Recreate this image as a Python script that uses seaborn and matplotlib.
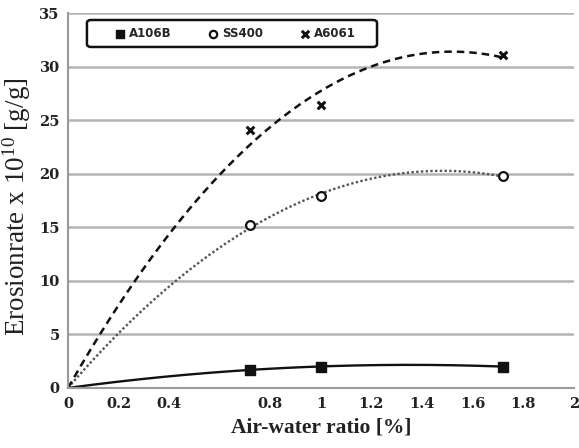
import numpy as np
import pandas as pd
import matplotlib
matplotlib.use("Agg")
import matplotlib.pyplot as plt
from matplotlib.patches import FancyBboxPatch
import seaborn as sns

# Measured erosion rates (x 10^10 g/g) at each air-water ratio (%)
air_water = [0.72, 1.0, 1.72]
a106b = [1.7, 2.0, 2.0]
ss400 = [15.2, 17.9, 19.8]
a6061 = [24.1, 26.4, 31.1]

series_names = ["A106B", "SS400", "A6061"]
x_ticks = [0, 0.2, 0.4, 0.6, 0.8, 1.0, 1.2, 1.4, 1.6, 1.8, 2.0]
x_tick_labels = ["0", "0.2", "0.4", "", "0.8", "1", "1.2", "1.4", "1.6", "1.8", "2"]
y_ticks = [0, 5, 10, 15, 20, 25, 30, 35]

sns.set_theme(style="white")
plt.rcParams["font.family"] = ["DejaVu Sans"]
plt.rcParams["mathtext.fontset"] = "custom"
plt.rcParams["mathtext.rm"] = "Liberation Serif"
plt.rcParams["mathtext.it"] = "Liberation Serif:italic"
plt.rcParams["mathtext.bf"] = "Liberation Serif:bold"

df = pd.DataFrame({
    "x": air_water * 3,
    "y": a106b + ss400 + a6061,
    "steel": np.repeat(series_names, len(air_water)),
})

fig = plt.figure(figsize=(5.79, 4.48), dpi=100)
ax = fig.add_axes([0.1174, 0.134, 0.8736, 0.836])

line_styles = {
    "A106B": dict(color="#111111", linestyle="-", linewidth=1.7),
    "SS400": dict(color="#555555", linestyle=(0, (1, 1)), linewidth=1.7),
    "A6061": dict(color="#111111", linestyle=(0, (3, 2)), linewidth=1.8),
}
marker_styles = {
    "A106B": dict(marker="s", s=45, facecolor="#111111", edgecolor="#111111", linewidth=1),
    "SS400": dict(marker="o", s=40, facecolor="white", edgecolor="#111111", linewidth=1.6),
    "A6061": dict(marker="x", s=30, color="#111111", linewidth=2.2),
}

# Quadratic trend lines forced through the origin (y = a*x + b*x^2)
for name in series_names:
    sub = df[df["steel"] == name]
    xs = sub["x"].to_numpy()
    ys = sub["y"].to_numpy()
    design = np.column_stack([xs, xs ** 2])
    coef, *_ = np.linalg.lstsq(design, ys, rcond=None)
    grid = np.linspace(0, xs.max(), 200)
    fit = pd.DataFrame({"x": grid, "y": coef[0] * grid + coef[1] * grid ** 2})
    sns.lineplot(data=fit, x="x", y="y", ax=ax, legend=False, **line_styles[name])

for name in series_names:
    sub = df[df["steel"] == name]
    sns.scatterplot(data=sub, x="x", y="y", ax=ax, label=name, zorder=5,
                    **marker_styles[name])

ax.set_xlim(0, 2)
ax.set_ylim(0, 35)
ax.set_xticks(x_ticks)
ax.set_xticklabels(x_tick_labels)
ax.set_yticks(y_ticks)

ax.yaxis.grid(True, color="#b4b4b4", linewidth=1.8)
ax.xaxis.grid(False)
ax.set_axisbelow(True)

for side in ["top", "right"]:
    ax.spines[side].set_visible(False)
for side in ["left", "bottom"]:
    ax.spines[side].set_color("#9a9a9a")
    ax.spines[side].set_linewidth(1.5)

ax.tick_params(axis="both", which="major", labelsize=10.5, colors="#9a9a9a",
               labelcolor="#222222", length=3, width=1)
ax.tick_params(axis="x", direction="inout", length=5, pad=4)
ax.tick_params(axis="y", direction="out", length=3, pad=3)
for lbl in ax.get_xticklabels() + ax.get_yticklabels():
    lbl.set_fontweight("bold")
    lbl.set_family("DejaVu Serif")

ax.set_xlabel("Air-water ratio [%]", fontsize=15.5, fontweight="bold",
              family="Liberation Serif", color="#222222", labelpad=5)
ax.set_ylabel(r"Erosionrate x 10$^{10}$ [g/g]", fontsize=19.5,
              family="Liberation Serif", color="#222222")
ax.yaxis.set_label_coords(-0.069, 0.483)

# Legend entries with a separately drawn rounded frame
leg = ax.legend(loc="center", bbox_to_anchor=(0.33, 0.947), ncol=3,
                frameon=False, handletextpad=0.3, columnspacing=3.0,
                handlelength=1.0,
                prop={"family": "DejaVu Sans", "weight": "bold", "size": 8.5})
for h in leg.legend_handles:
    h.set_sizes([28])
ax.add_patch(FancyBboxPatch((0.0375, 0.9105), 0.5735, 0.072,
                            boxstyle="round,pad=0,rounding_size=0.008",
                            transform=ax.transAxes, facecolor="white",
                            edgecolor="#111111", linewidth=1.8, zorder=4))
leg.set_zorder(6)

fig.savefig("out.png", dpi=100)
